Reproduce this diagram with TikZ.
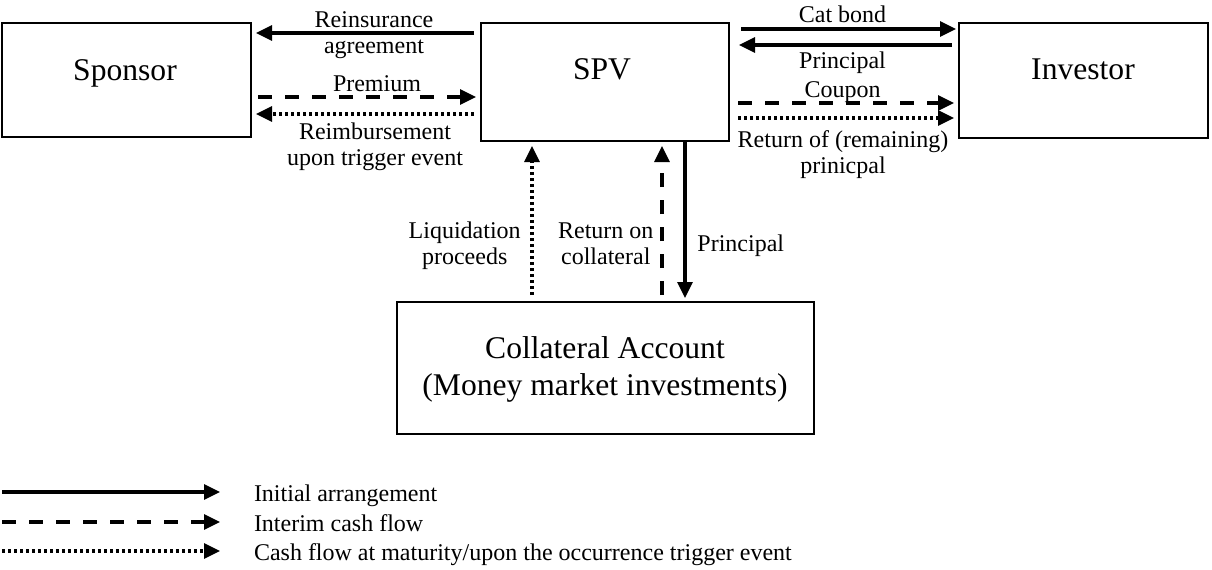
\documentclass[tikz,border=0pt]{standalone}
\usepackage{fontspec}
\setmainfont{Liberation Serif}
\usetikzlibrary{arrows.meta}

\tikzset{every picture/.style={line width=1pt}}
\tikzset{
  box/.style={draw, line width=1pt, inner sep=0pt},
  boxtext/.style={font=\fontsize{15.8}{18.5}\selectfont, align=center, inner sep=0pt},
  flowtext/.style={font=\fontsize{12}{13}\selectfont, align=center, inner sep=0pt},
  flow/.style={line width=1.6pt, -{Triangle[length=8pt,width=7.5pt]}, shorten <=3pt, shorten >=2pt},
  initial/.style={flow},
  interim/.style={flow, dash pattern=on 7pt off 6.5pt},
  maturity/.style={flow, dash pattern=on 1.65pt off 1.35pt},
}

\begin{document}
\begin{tikzpicture}[x=0.5pt,y=0.5pt,yscale=-1,xscale=1]
\useasboundingbox (0,0) rectangle (1212,569);

%Shape: Rectangle [Sponsor]
\node[box, minimum width=124.5pt, minimum height=57pt] (spon) at (126.5,80) {};
%Shape: Rectangle [SPV]
\node[box, minimum width=124pt, minimum height=59pt] (spv) at (605,82) {};
%Shape: Rectangle [Investor]
\node[box, minimum width=124.5pt, minimum height=57.5pt] (inv) at (1083.5,80.5) {};
%Shape: Rectangle [Collateral account]
\node[box, minimum width=208.5pt, minimum height=66pt] (coll) at (605.5,368) {};

% Text Node
\node[boxtext, anchor=base] (spontext) at (125,80) {Sponsor};
% Text Node
\node[boxtext, anchor=base] (spvtext) at (602,79) {SPV};
% Text Node
\node[boxtext, anchor=base] (invtext) at (1083,79) {Investor};
% Text Node
\node[boxtext, anchor=base] (colltext) at (605,395) {Collateral Account\\(Money market investments)};

%Straight Lines [Sponsor - SPV]
\draw[initial] (spv.west |- 0,33) -- (spon.east |- 0,33);
\draw[interim] (spon.east |- 0,97) -- (spv.west |- 0,97);
\draw[maturity] (spv.west |- 0,114) -- (spon.east |- 0,114);

%Straight Lines [SPV - Investor]
\draw[initial, shorten <=5.5pt, shorten >=1pt] (spv.east |- 0,29) -- (inv.west |- 0,29);
\draw[initial, shorten >=4.5pt] (inv.west |- 0,45) -- (spv.east |- 0,45);
\draw[interim, shorten <=4pt] (spv.east |- 0,103) -- (inv.west |- 0,103);
\draw[maturity, shorten <=4pt] (spv.east |- 0,118) -- (inv.west |- 0,118);

%Straight Lines [SPV - Collateral]
\draw[maturity] (coll.north -| 532,0) -- (spv.south -| 532,0);
\draw[interim] (coll.north -| 662,0) -- (spv.south -| 662,0);
\draw[initial, shorten <=0pt, shorten >=1.5pt] (spv.south -| 685,0) -- (coll.north -| 685,0);

% Text Node
\node[flowtext, anchor=base] (reins) at (374,53) {Reinsurance\\agreement};
% Text Node
\node[flowtext, anchor=base] (prem) at (377,91) {Premium};
% Text Node
\node[flowtext, anchor=base] (reimb) at (375,165) {Reimbursement\\upon trigger event};
% Text Node
\node[flowtext, anchor=base] (catbond) at (842.5,22.7) {Cat bond};
% Text Node
\node[flowtext, anchor=base] (princ) at (842.5,68) {Principal};
% Text Node
\node[flowtext, anchor=base] (coupon) at (842.5,97.7) {Coupon};
% Text Node
\node[flowtext, anchor=base] (retprinc) at (843,173) {Return of (remaining)\\prinicpal};
% Text Node
\node[flowtext, anchor=base] (liquid) at (464.7,264) {Liquidation\\proceeds};
% Text Node
\node[flowtext, anchor=base] (retcoll) at (605.8,264) {Return on\\collateral};
% Text Node
\node[flowtext, anchor=base] (collprinc) at (740.8,251.7) {Principal};

%Legend
\coordinate (leg1a) at (2,492);
\coordinate (leg1b) at (220,492);
\coordinate (leg2a) at (2,522);
\coordinate (leg2b) at (220,522);
\coordinate (leg3a) at (2,551);
\coordinate (leg3b) at (220,551);
\draw[initial, shorten <=0pt, shorten >=0pt] (leg1a) -- (leg1b);
\draw[interim, shorten <=0pt, shorten >=0pt] (leg2a) -- (leg2b);
\draw[maturity, shorten <=0pt, shorten >=0pt] (leg3a) -- (leg3b);
% Text Node
\node[flowtext, anchor=base west] (leg1text) at (253,501) {Initial arrangement};
% Text Node
\node[flowtext, anchor=base west] (leg2text) at (253,531) {Interim cash flow};
% Text Node
\node[flowtext, anchor=base west] (leg3text) at (253,560) {Cash flow at maturity/upon the occurrence trigger event};

\end{tikzpicture}
\end{document}
